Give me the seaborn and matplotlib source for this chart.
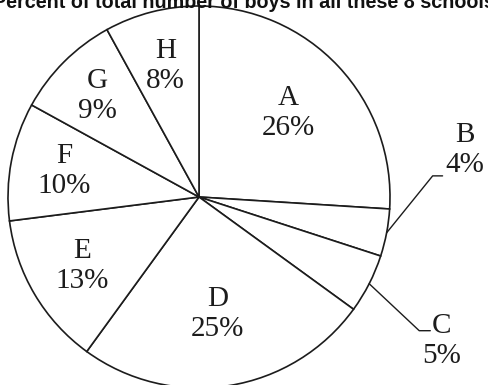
import numpy as np
import matplotlib
matplotlib.use("Agg")
import matplotlib.pyplot as plt
import seaborn as sns

# data
schools = ['A', 'B', 'C', 'D', 'E', 'F', 'G', 'H']
percent = [26, 4, 5, 25, 13, 10, 9, 8]
title = 'Percent of total number of boys in all these 8 schools'

# inner labels: distance from centre (fraction of radius)
label_r = [0.64, None, None, 0.62, 0.71, 0.72, 0.75, 0.71]

sns.set_style("white")
plt.rcParams['font.family'] = ['Liberation Serif', 'DejaVu Serif']

fig = plt.figure(figsize=(4.88, 3.85), dpi=100)
ax = fig.add_axes([0, 0, 1, 1])

wedges, _ = ax.pie(percent, startangle=90, counterclock=False,
                   colors=['white'] * len(percent),
                   wedgeprops=dict(edgecolor='#1c1c1c', linewidth=1.2))

ink = '#1c1c1c'
for w, name, p, r in zip(wedges, schools, percent, label_r):
    mid = np.deg2rad((w.theta1 + w.theta2) / 2)
    if r is None:
        continue
    ax.text(r * np.cos(mid), r * np.sin(mid), f'{name}\n{p}%',
            ha='center', va='center', fontsize=21, color=ink, linespacing=1.2)

# outside labels with leader lines (B and C)
outside = {'B': ((0.241, 0.298), (0.052, 0.0), (1.393, 0.246)),
           'C': ((0.262, -0.246), (0.058, 0.0), (1.272, -0.754))}
for w, name, p in zip(wedges, schools, percent):
    if name not in outside:
        continue
    mid = np.deg2rad((w.theta1 + w.theta2) / 2)
    x0, y0 = np.cos(mid), np.sin(mid)
    (dx1, dy1), (dx2, dy2), (tx, ty) = outside[name]
    xs = [x0, x0 + dx1, x0 + dx1 + dx2]
    ys = [y0, y0 + dy1, y0 + dy1 + dy2]
    ax.plot(xs, ys, color=ink, linewidth=1.0)
    ax.text(tx, ty, f'{name}\n{p}%', ha='center', va='center',
            fontsize=21, color=ink, linespacing=1.2)

ax.set_xlim(-199 / 191, 289 / 191)
ax.set_ylim(-188 / 191, 197 / 191)
ax.axis('off')

# the title is cropped at the top edge in the original image
fig.text(0.5, 1 - 7.5 / 385, title, ha='center', va='baseline',
         fontsize=14.2, fontweight='bold', color='#111111',
         family=['Liberation Sans', 'DejaVu Sans'])

fig.savefig('out.png', dpi=100, facecolor='white')
